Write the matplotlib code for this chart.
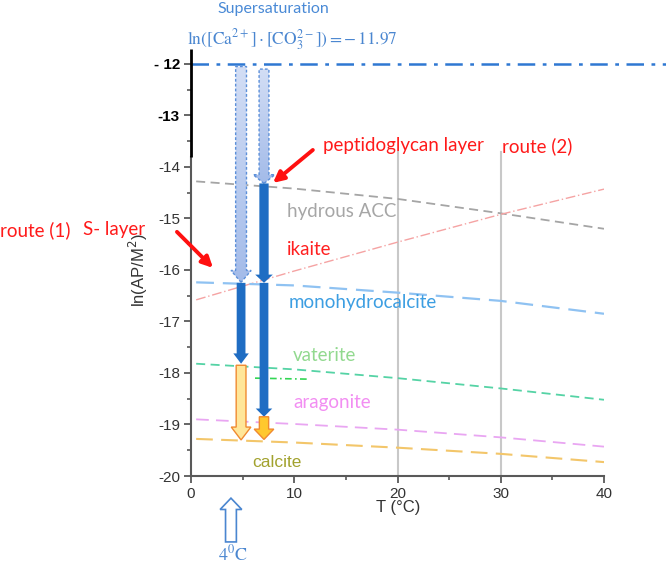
import numpy as np
import matplotlib
matplotlib.use("Agg")
import matplotlib.pyplot as plt
from matplotlib.patches import FancyArrow
from matplotlib.colors import LinearSegmentedColormap

# ---------------- data ----------------
T = [0.5, 10, 20, 30, 40]
hydrous_acc = [-14.28, -14.42, -14.62, -14.90, -15.20]
ikaite = [-16.58, -16.02, -15.46, -14.92, -14.43]
monohydrocalcite = [-16.24, -16.30, -16.44, -16.60, -16.85]
vaterite = [-17.82, -17.93, -18.10, -18.30, -18.52]
aragonite = [-18.90, -18.99, -19.10, -19.25, -19.43]
calcite = [-19.28, -19.35, -19.45, -19.57, -19.73]
green_fragment_T = [6.2, 11.5]
green_fragment_y = [-18.10, -18.12]

supersaturation = -12.0
route1_T = 4.85
route2_T = 7.07
# (x, y_start, y_end)
light_arrows = [(route1_T, -12.05, -16.24), (route2_T, -12.1, -14.32)]
dark_arrows = [(route2_T, -14.32, -16.25), (route1_T, -16.25, -17.82), (route2_T, -16.25, -18.85)]
orange_arrows = [(route1_T, -17.85, -19.30, '#ffe699'), (route2_T, -18.85, -19.29, '#ffc82e')]

x_ticks = [0, 10, 20, 30, 40]
y_ticks = [-20, -19, -18, -17, -16, -15, -14, -13, -12]

# ---------------- figure ----------------
W, H = 666, 569
fig = plt.figure(figsize=(W / 100, H / 100), dpi=100)
ax = fig.add_axes([191 / W, 1 - 476 / H, 413 / W, 427.5 / H])
ax.set_xlim(0, 40)
ax.set_ylim(-20, -11.7)

sans = 'Lato'
arial = 'Liberation Sans'
lbl = 13.5

# grid lines at 20 and 30
for xv in [20, 30]:
    ax.plot([xv, xv], [-20, -13.7], color='#c8c8c8', lw=1.5, zorder=1)

# curves
ax.plot(T, hydrous_acc, color='#a5a5a5', lw=1.3, dashes=(5, 3), zorder=2)
ax.plot(T, ikaite, color='#f5a3a3', lw=1.0, dashes=(7, 2, 1, 2), zorder=2)
ax.plot(T, monohydrocalcite, color='#8fc2f2', lw=1.6, dashes=(8, 4), zorder=2)
ax.plot(T, vaterite, color='#55d3a5', lw=1.3, dashes=(5, 3), zorder=2)
ax.plot(T, aragonite, color='#e9a6f2', lw=1.3, dashes=(7, 4), zorder=2)
ax.plot(T, calcite, color='#f3c66a', lw=1.5, dashes=(8, 4), zorder=2)
ax.plot(green_fragment_T, green_fragment_y, color='#33d655', lw=1.2,
        dashes=(4, 2, 1, 2), zorder=2)

# supersaturation line
ax.plot([0, 46], [supersaturation, supersaturation], color='#2f78d2', lw=1.8,
        dashes=(7, 3, 1.5, 3), clip_on=False, zorder=3)

# light gradient arrows
cmap = LinearSegmentedColormap.from_list('lb', ['#d3def5', '#a3bbe9'])
grad = np.linspace(0, 1, 256).reshape(-1, 1)
light_dims = [(1.05, 1.95, 0.23), (0.95, 2.1, 0.17)]
for (x, y0, y1), (w, hw, hl) in zip(light_arrows, light_dims):
    arr = FancyArrow(x, y0, 0, y1 - y0, width=w, head_width=hw, head_length=hl,
                     length_includes_head=True, facecolor='none',
                     edgecolor='#5b8fd9', lw=1.0, linestyle=(0, (2, 1.5)), zorder=5)
    ax.add_patch(arr)
    im = ax.imshow(grad, cmap=cmap, extent=[x - hw / 2, x + hw / 2, y1, y0],
                   aspect='auto', zorder=4, origin='upper')
    im.set_clip_path(arr)

# dark blue arrows
dark_dims = [(0.9, 1.7, 0.16), (0.85, 1.5, 0.2), (0.85, 1.6, 0.16)]
for (x, y0, y1), (w, hw, hl) in zip(dark_arrows, dark_dims):
    ax.add_patch(FancyArrow(x, y0, 0, y1 - y0, width=w, head_width=hw, head_length=hl,
                            length_includes_head=True, facecolor='#1f6dc3',
                            edgecolor='none', zorder=6))

# orange arrows
orange_dims = [(0.95, 1.9, 0.25), (0.9, 1.9, 0.2)]
for (x, y0, y1, fc), (w, hw, hl) in zip(orange_arrows, orange_dims):
    ax.add_patch(FancyArrow(x, y0, 0, y1 - y0, width=w, head_width=hw, head_length=hl,
                            length_includes_head=True, facecolor=fc,
                            edgecolor='#f08a30', lw=1.0, zorder=6))

# 4 °C hollow arrow below axis
ax.add_patch(FancyArrow(3.87, -21.28, 0, 0.85, width=1.05, head_width=2.1, head_length=0.22,
                        length_includes_head=True, facecolor='white',
                        edgecolor='#4a86d0', lw=1.2, clip_on=False, zorder=6))

# red pointer arrows
for (xs, ys), (xe, ye) in [((11.8, -13.67), (7.94, -14.31)), ((-1.36, -15.26), (2.13, -15.96))]:
    ax.annotate('', xy=(xe, ye), xytext=(xs, ys), annotation_clip=False,
                arrowprops=dict(arrowstyle='-|>', color='#ff1010', lw=2.8,
                                mutation_scale=16, shrinkA=0, shrinkB=0), zorder=7)

# curve labels
ax.text(9.3, -14.87, 'hydrous ACC', color='#a6a6a6', fontsize=lbl, family=sans, va='center')
ax.text(9.3, -15.61, 'ikaite', color='#ff2020', fontsize=lbl, family=sans, va='center')
ax.text(9.49, -16.64, 'monohydrocalcite', color='#3c9ee2', fontsize=lbl, family=sans, va='center')
ax.text(9.88, -17.67, 'vaterite', color='#92d98f', fontsize=lbl, family=sans, va='center')
ax.text(9.88, -18.58, 'aragonite', color='#f28ef2', fontsize=lbl, family=sans, va='center')
ax.text(5.9, -19.73, 'calcite', color='#a2a22e', fontsize=12.5, family=arial, va='center')

# route annotations
ax.text(12.78, -13.59, 'peptidoglycan layer', color='#ff1a1a', fontsize=lbl, family=sans, va='center')
ax.text(30.1, -13.59, 'route (2)', color='#ff1a1a', fontsize=lbl, family=sans, va='center')
ax.text(-18.5, -15.22, 'route (1)', color='#ff1a1a', fontsize=lbl, family=sans, va='center')
ax.text(-10.46, -15.22, 'S- layer', color='#ff1a1a', fontsize=lbl, family=sans, va='center')

# supersaturation title
ax.text(7.94, -10.93, 'Supersaturation', color='#4a8ad6', fontsize=11.5, family=sans,
        ha='center', va='center')
ax.text(9.78, -11.53, r'$\ln([\mathrm{Ca}^{2+}]\cdot[\mathrm{CO}_3^{2-}])=-\,11.97$',
        color='#4a86d0', fontsize=12.5, ha='center', va='center',
        math_fontfamily='stix')
ax.text(4.05, -21.52, r'$4^{0}\mathrm{C}$', color='#4a86d0', fontsize=13,
        ha='center', va='center', math_fontfamily='stix')

# axes styling
for s in ['top', 'right']:
    ax.spines[s].set_visible(False)
ax.spines['left'].set_color('#595959')
ax.spines['left'].set_linewidth(1.5)
ax.spines['left'].set_bounds(-20, -13.8)
ax.spines['bottom'].set_color('#595959')
ax.spines['bottom'].set_linewidth(1.5)
ax.plot([0, 0], [-13.8, -11.7], color='black', lw=2.0, clip_on=False, zorder=8,
        solid_capstyle='butt')

ax.set_xticks(x_ticks)
ax.set_yticks(y_ticks)
ax.set_xticks([5, 15, 25, 35], minor=True)
ax.set_yticks(np.arange(-19.5, -11.9, 1.0), minor=True)
ax.tick_params(axis='both', which='major', length=5, width=1.3, color='#595959',
               labelsize=11, labelcolor='#333333', direction='out', pad=3)
ax.tick_params(axis='both', which='minor', length=3, width=1.2, color='#595959', direction='out')
ax.set_xticklabels([str(v) for v in x_ticks], family=arial)
ylabs = []
for v in y_ticks:
    ylabs.append('- 12' if v == -12 else str(v))
ax.set_yticklabels(ylabs, family=arial)
for lab, v in zip(ax.get_yticklabels(), y_ticks):
    if v in (-12, -13):
        lab.set_fontweight('bold')
        lab.set_color('black')

ax.set_xlabel('T (°C)', family=arial, fontsize=12, color='#333333')
ax.xaxis.set_label_coords(0.501, -0.056)
ax.set_ylabel('ln(AP/M$^2$)', family=arial, fontsize=12, color='#333333')
ax.yaxis.set_label_coords(-0.099, 0.482)

fig.savefig('out.png', dpi=100)
